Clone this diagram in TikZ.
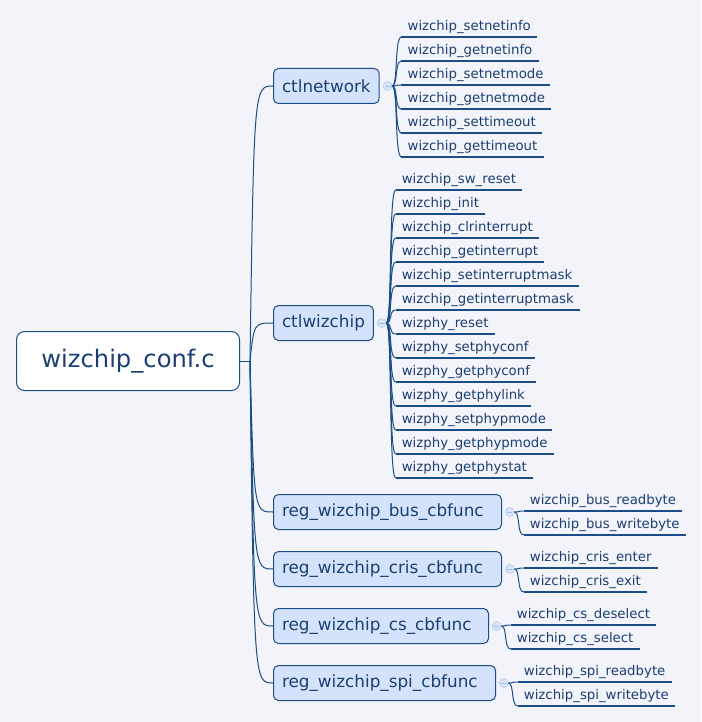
\documentclass[tikz,border=0pt]{standalone}
\usepackage{fontspec}
\setmainfont{DejaVu Sans}
\usepackage{xcolor}
\usepackage{tikz}
\usetikzlibrary{positioning,calc}

\definecolor{ink}{HTML}{1B3F73}
\definecolor{wirecol}{HTML}{1D4D88}
\definecolor{kidfill}{HTML}{D4E2FB}
\definecolor{canvas}{HTML}{F2F4FA}
\definecolor{togfill}{HTML}{D8E4F8}
\definecolor{togline}{HTML}{A7BEE6}

\begin{document}
\begin{tikzpicture}[
  x=1pt, y=-1pt,
  wire/.style={draw=wirecol, line width=1pt},
  rootbox/.style={draw=wirecol, fill=white, rounded corners=8pt, line width=1pt,
            minimum width=223pt, minimum height=59pt, text=ink,
            font=\fontsize{24.2}{28}\selectfont},
  kid/.style={draw=wirecol, fill=kidfill, rounded corners=5pt, line width=1pt,
            minimum height=35pt, inner xsep=8.5pt, anchor=west, align=left,
            text=ink, font=\fontsize{16.8}{20}\selectfont},
  toggle/.style={circle, draw=togline, fill=togfill, minimum size=9pt, inner sep=0pt,
            path picture={\draw[togline, line width=.8pt]
              ([xshift=2pt]path picture bounding box.west) --
              ([xshift=-2pt]path picture bounding box.east);}},
  leaf/.style={anchor=south west, inner xsep=6pt, inner ysep=3.5pt,
            text height=10pt, text depth=3.2pt, text=ink,
            font=\fontsize{13.3}{16}\selectfont,
            append after command={(\tikzlastnode.south west)
              edge[wire, line width=1.1pt] (\tikzlastnode.south east)}},
  limb/.style={wire, to path={.. controls ([xshift=4pt]\tikztostart |- \tikztotarget)
            .. (\tikztotarget)}},
  twig/.style={wire, to path={.. controls ([xshift=6pt]\tikztostart) and
            ([xshift=-7pt]\tikztotarget) .. (\tikztotarget)}}
]
  \fill[canvas] (0,0) rectangle (701,722);

  % --- centre and main branches
  \node[rootbox] (root) at (128,361) {wizchip\_conf.c};
  \coordinate (hub) at ([xshift=10pt]root.east);

  \node[kid] (net) at (273,86) {ctlnetwork};
  \node[kid] (wiz) at (273,323) {ctlwizchip};
  \node[kid, text width=211pt] (bus) at (273,512) {reg\_wizchip\_bus\_cbfunc};
  \node[kid, text width=211pt] (cris) at (273,569) {reg\_wizchip\_cris\_cbfunc};
  \node[kid, text width=198pt] (cs) at (273,626) {reg\_wizchip\_cs\_cbfunc};
  \node[kid, text width=205pt] (spi) at (273,683) {reg\_wizchip\_spi\_cbfunc};

  \draw[wire] (root.east) -- (hub);
  \path (hub) edge[limb] (net.west) edge[limb] (wiz.west) edge[limb] (bus.west)
        edge[limb] (cris.west) edge[limb] (cs.west) edge[limb] (spi.west);

  \node[toggle, right=3pt of net] (tnet) {};
  \node[toggle, right=3pt of wiz] (twiz) {};
  \node[toggle, right=3pt of bus] (tbus) {};
  \node[toggle, right=3pt of cris] (tcris) {};
  \node[toggle, right=3pt of cs] (tcs) {};
  \node[toggle, right=3pt of spi] (tspi) {};

  % --- ctlnetwork
  \node[leaf] (n1) at ([shift={(14pt,49pt)}]tnet.center) {wizchip\_setnetinfo};
  \node[leaf] (n2) at ([yshift=-24pt]n1.south west) {wizchip\_getnetinfo};
  \node[leaf] (n3) at ([yshift=-24pt]n2.south west) {wizchip\_setnetmode};
  \node[leaf] (n4) at ([yshift=-24pt]n3.south west) {wizchip\_getnetmode};
  \node[leaf] (n5) at ([yshift=-24pt]n4.south west) {wizchip\_settimeout};
  \node[leaf] (n6) at ([yshift=-24pt]n5.south west) {wizchip\_gettimeout};

  \path (tnet.east) edge[twig] (n1.south west) edge[twig] (n2.south west)
        edge[twig] (n3.south west) edge[twig] (n4.south west)
        edge[twig] (n5.south west) edge[twig] (n6.south west);

  % --- ctlwizchip
  \node[leaf] (w1) at ([shift={(14pt,133pt)}]twiz.center) {wizchip\_sw\_reset};
  \node[leaf] (w2) at ([yshift=-24pt]w1.south west) {wizchip\_init};
  \node[leaf] (w3) at ([yshift=-24pt]w2.south west) {wizchip\_clrinterrupt};
  \node[leaf] (w4) at ([yshift=-24pt]w3.south west) {wizchip\_getinterrupt};
  \node[leaf] (w5) at ([yshift=-24pt]w4.south west) {wizchip\_setinterruptmask};
  \node[leaf] (w6) at ([yshift=-24pt]w5.south west) {wizchip\_getinterruptmask};
  \node[leaf] (w7) at ([yshift=-24pt]w6.south west) {wizphy\_reset};
  \node[leaf] (w8) at ([yshift=-24pt]w7.south west) {wizphy\_setphyconf};
  \node[leaf] (w9) at ([yshift=-24pt]w8.south west) {wizphy\_getphyconf};
  \node[leaf] (w10) at ([yshift=-24pt]w9.south west) {wizphy\_getphylink};
  \node[leaf] (w11) at ([yshift=-24pt]w10.south west) {wizphy\_setphypmode};
  \node[leaf] (w12) at ([yshift=-24pt]w11.south west) {wizphy\_getphypmode};
  \node[leaf] (w13) at ([yshift=-24pt]w12.south west) {wizphy\_getphystat};

  \path (twiz.east) edge[twig] (w1.south west) edge[twig] (w2.south west)
        edge[twig] (w3.south west) edge[twig] (w4.south west)
        edge[twig] (w5.south west) edge[twig] (w6.south west)
        edge[twig] (w7.south west) edge[twig] (w8.south west)
        edge[twig] (w9.south west) edge[twig] (w10.south west)
        edge[twig] (w11.south west) edge[twig] (w12.south west)
        edge[twig] (w13.south west);

  % --- callback registration
  \node[leaf] (b1) at ([shift={(14pt,1pt)}]tbus.center) {wizchip\_bus\_readbyte};
  \node[leaf] (b2) at ([yshift=-24pt]b1.south west) {wizchip\_bus\_writebyte};
  \path (tbus.east) edge[twig] (b1.south west) edge[twig] (b2.south west);

  \node[leaf] (r1) at ([shift={(14pt,1pt)}]tcris.center) {wizchip\_cris\_enter};
  \node[leaf] (r2) at ([yshift=-24pt]r1.south west) {wizchip\_cris\_exit};
  \path (tcris.east) edge[twig] (r1.south west) edge[twig] (r2.south west);

  \node[leaf] (c1) at ([shift={(14pt,1pt)}]tcs.center) {wizchip\_cs\_deselect};
  \node[leaf] (c2) at ([yshift=-24pt]c1.south west) {wizchip\_cs\_select};
  \path (tcs.east) edge[twig] (c1.south west) edge[twig] (c2.south west);

  \node[leaf] (s1) at ([shift={(14pt,1pt)}]tspi.center) {wizchip\_spi\_readbyte};
  \node[leaf] (s2) at ([yshift=-24pt]s1.south west) {wizchip\_spi\_writebyte};
  \path (tspi.east) edge[twig] (s1.south west) edge[twig] (s2.south west);
\end{tikzpicture}
\end{document}
